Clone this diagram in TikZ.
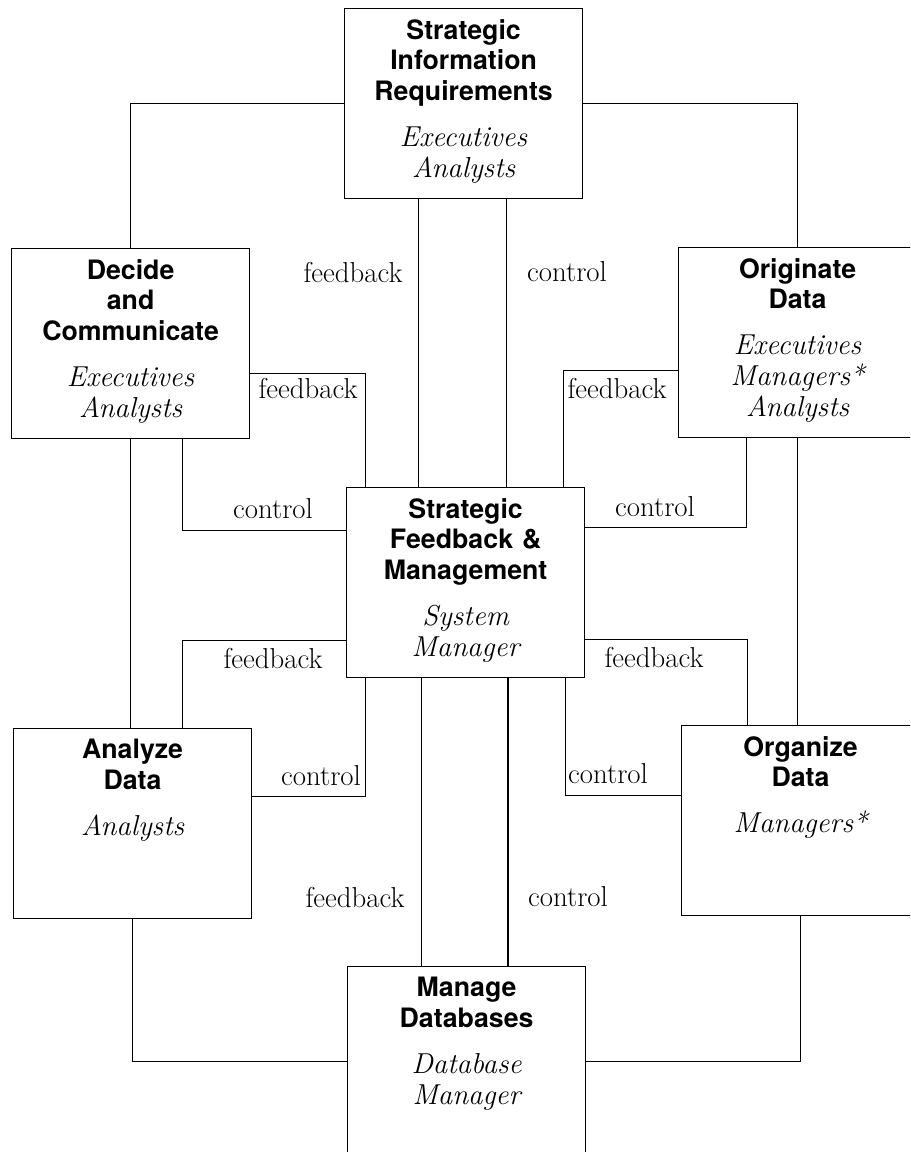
\documentclass[tikz,border=0pt]{standalone}
\usepackage{fontspec}
\newfontfamily\headfont{TeX Gyre Heros}
\usetikzlibrary{calc}
\newcommand{\stage}[2]{{\headfont\bfseries #1}\\[10.5pt]\fontsize{20.5}{22}\selectfont\itshape #2}

\begin{document}
\begin{tikzpicture}[x=0.025cm,y=-0.025cm,line width=0.8pt,
        box/.style={draw,anchor=north west,minimum width=5.95cm,minimum height=4.75cm,inner sep=0pt},
        boxtext/.style={anchor=north,inner sep=0pt,text width=5.8cm,align=center,
                        font=\fontsize{19}{22}\selectfont},
        flow/.style={anchor=base,inner sep=0pt,font=\fontsize{20.5}{22}\selectfont}]
  \useasboundingbox (0,0) rectangle (910,1152);
  \clip (0,0) rectangle (910,1152);
  % boxes
  \node[box] (sir) at (344,8) {};
  \node[box] (dec) at (11,248) {};
  \node[box] (ori) at (678,247) {};
  \node[box] (sfm) at (346,487) {};
  \node[box] (ana) at (13,728) {};
  \node[box] (org) at (681,725) {};
  \node[box] (mdb) at (347,966) {};
  \node[boxtext] (sir-t) at ([yshift=-7.5pt]sir.north) {\stage{Strategic\\Information\\Requirements}{Executives\\Analysts}};
  \node[boxtext] (dec-t) at ([yshift=-7.5pt]dec.north) {\stage{Decide\\and\\Communicate}{Executives\\Analysts}};
  \node[boxtext] (ori-t) at ([yshift=-7.5pt]ori.north) {\stage{Originate\\Data}{Executives\\Managers*\\Analysts}};
  \node[boxtext] (sfm-t) at ([yshift=-7.5pt]sfm.north) {\stage{Strategic\\Feedback \&\\Management}{System\\Manager}};
  \node[boxtext] (ana-t) at ([yshift=-7.5pt]ana.north) {\stage{Analyze\\Data}{Analysts}};
  \node[boxtext] (org-t) at ([yshift=-7.5pt]org.north) {\stage{Organize\\Data}{Managers*}};
  \node[boxtext] (mdb-t) at ([yshift=-7.5pt]mdb.north) {\stage{Manage\\Databases}{Database\\Manager}};
  % outer ring
  \draw (sir.west) -| (dec.north);
  \draw (sir.east) -| (ori.north);
  \draw (dec.south) -- (dec.south |- ana.north);
  \draw (ori.south) -- (ori.south |- org.north);
  \draw (ana.south) |- (mdb.west);
  \draw (org.south) |- (mdb.east);
  % to and from the centre
  \draw ([xshift=-1.125cm]sir.south) -- ([xshift=-1.125cm]sir.south |- sfm.north);
  \draw ([xshift=1.075cm]sir.south) -- ([xshift=1.075cm]sir.south |- sfm.north);
  \draw ([yshift=-0.75cm]dec.east) -| ([xshift=-2.5cm]sfm.north);
  \draw ([xshift=1.3cm]dec.south) |- ([yshift=1.3cm]sfm.west);
  \draw ([yshift=-1.45cm]sfm.west) -| ([xshift=1.25cm]ana.north);
  \draw ([yshift=0.675cm]ana.east) -| ([xshift=-2.5cm]sfm.south);
  \draw ([yshift=-0.7cm]ori.west) -| ([xshift=2.45cm]sfm.north);
  \draw ([xshift=-1.275cm]ori.south) |- ([yshift=1.375cm]sfm.east);
  \draw ([yshift=-1.425cm]sfm.east) -| ([xshift=-1.325cm]org.north);
  \draw ([yshift=0.625cm]org.west) -| ([xshift=2.5cm]sfm.south);
  \draw ([xshift=-1.1cm]sfm.south) -- ([xshift=-1.1cm]sfm.south |- mdb.north);
  \draw ([xshift=1.06cm]sfm.south) -- ([xshift=1.06cm]sfm.south |- mdb.north);
  % labels
  \node[flow] (fb-sir) at (353,282) {feedback};
  \node[flow] (ct-sir) at (567,281) {control};
  \node[flow] (fb-dec) at (308,398) {feedback};
  \node[flow] (ct-dec) at (273,518) {control};
  \node[flow] (fb-ana) at (273,668) {feedback};
  \node[flow] (ct-ana) at (321,785) {control};
  \node[flow] (fb-ori) at (617,398) {feedback};
  \node[flow] (ct-ori) at (655,516) {control};
  \node[flow] (fb-org) at (654,667) {feedback};
  \node[flow] (ct-org) at (608,783) {control};
  \node[flow] (fb-mdb) at (355,907) {feedback};
  \node[flow] (ct-mdb) at (568,906) {control};
\end{tikzpicture}
\end{document}
